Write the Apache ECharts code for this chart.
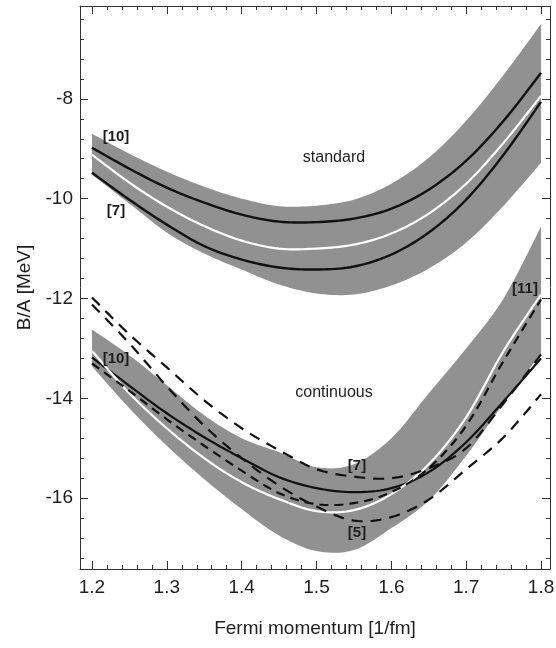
<!DOCTYPE html>
<html>
<head>
<meta charset="utf-8">
<script src="https://cdn.jsdelivr.net/npm/echarts@6/dist/echarts.min.js"></script>
<style>
  html, body { margin: 0; padding: 0; background: #fff; }
  #chart { width: 556px; height: 648px; }
</style>
</head>
<body>
<div id="chart"></div>
<script>
// Fermi momentum grid [1/fm]
const fermiK = [1.2, 1.25, 1.3, 1.35, 1.4, 1.45, 1.5, 1.55, 1.6, 1.65, 1.7, 1.75, 1.8];

// "standard" group: error band, two reference curves and the white centre curve
const stdBandTop    = [-8.70, -9.10, -9.46, -9.76, -10.00, -10.15, -10.14, -10.02, -9.70, -9.18, -8.44, -7.52, -6.50];
const stdBandBottom = [-9.52, -10.10, -10.68, -11.10, -11.42, -11.72, -11.90, -11.92, -11.74, -11.40, -10.88, -10.14, -9.28];
const std10         = [-8.98, -9.40, -9.78, -10.08, -10.32, -10.46, -10.47, -10.40, -10.20, -9.82, -9.24, -8.44, -7.48];
const stdCenter     = [-9.12, -9.68, -10.16, -10.55, -10.84, -11.00, -11.00, -10.92, -10.70, -10.30, -9.70, -8.88, -7.94];
const std7          = [-9.48, -10.02, -10.52, -10.95, -11.22, -11.38, -11.42, -11.36, -11.12, -10.68, -10.02, -9.12, -8.06];

// "continuous" group
const contBandTop    = [-12.62, -13.14, -13.74, -14.34, -14.80, -15.08, -15.38, -15.32, -14.80, -13.90, -13.00, -12.00, -10.56];
const contBandBottom = [-13.36, -14.20, -14.95, -15.62, -16.22, -16.75, -17.06, -17.04, -16.60, -16.05, -15.15, -14.10, -13.10];
const cont10         = [-13.18, -13.75, -14.30, -14.78, -15.20, -15.58, -15.80, -15.88, -15.80, -15.48, -14.88, -14.06, -13.20];
const contCenter     = [-13.05, -13.90, -14.60, -15.20, -15.68, -16.02, -16.26, -16.24, -15.92, -15.32, -14.38, -13.05, -11.92];
const cont7          = [-11.98, -12.72, -13.38, -14.04, -14.60, -15.04, -15.42, -15.57, -15.60, -15.40, -15.00, -14.10, -13.12];
const cont5          = [-12.12, -12.90, -13.76, -14.55, -15.20, -15.75, -16.17, -16.45, -16.38, -16.03, -15.42, -14.78, -13.92];
const cont11         = [-13.30, -13.85, -14.42, -14.95, -15.45, -15.90, -16.12, -16.10, -15.88, -15.40, -14.55, -13.25, -12.02];

// tick labels
const xMajor = [1.2, 1.3, 1.4, 1.5, 1.6, 1.7, 1.8];
const yMajor = [-16, -14, -12, -10, -8];

const X_MIN = 1.184, X_MAX = 1.812;
const Y_MIN = -17.42, Y_MAX = -6.14;

// minor ticks: 5 subdivisions per major step
const xMinor = [];
for (let i = 0; i <= 30; i++) xMinor.push(+(1.2 + i * 0.02).toFixed(2));
const yMinor = [];
for (let i = 0; i <= 27; i++) yMinor.push(+(-17.2 + i * 0.4).toFixed(1));

const FONT = '"Liberation Sans", Arial, Helvetica, sans-serif';
const FRAME = '#333';
const TEXT = '#1e1e1e';
const BAND = '#919191';

// Catmull-Rom 插值（像素空间），让曲线和误差带边缘平滑
function smoothPts(pts, steps) {
  const out = [];
  for (let i = 0; i < pts.length - 1; i++) {
    const p0 = pts[Math.max(i - 1, 0)], p1 = pts[i], p2 = pts[i + 1], p3 = pts[Math.min(i + 2, pts.length - 1)];
    for (let s = 0; s < steps; s++) {
      const t = s / steps, t2 = t * t, t3 = t2 * t;
      out.push([0, 1].map(k => 0.5 * (2 * p1[k] + (-p0[k] + p2[k]) * t +
        (2 * p0[k] - 5 * p1[k] + 4 * p2[k] - p3[k]) * t2 + (-p0[k] + 3 * p1[k] - 3 * p2[k] + p3[k]) * t3)));
    }
  }
  out.push(pts[pts.length - 1]);
  return out;
}

function toPixels(api, ys) {
  return smoothPts(fermiK.map((x, i) => api.coord([x, ys[i]])), 10);
}

// 误差带：custom 系列，上边界 + 反向下边界组成多边形
function bandSeries(top, bottom) {
  return {
    type: 'custom', silent: true, z: 1,
    data: fermiK.map((x, i) => [x, top[i], bottom[i]]),
    encode: { x: 0, y: [1, 2] },
    renderItem: (params, api) => {
      if (params.dataIndex !== 0) return null;
      const upper = toPixels(api, top);
      const lower = toPixels(api, bottom);
      return {
        type: 'polygon',
        shape: { points: upper.concat(lower.reverse()) },
        style: { fill: BAND, stroke: null }
      };
    }
  };
}

// 曲线：custom 折线（平滑后的像素点）
function curve(ys, color, dash, width) {
  return {
    type: 'custom', silent: true, z: 3,
    data: fermiK.map((x, i) => [x, ys[i]]),
    encode: { x: 0, y: 1 },
    renderItem: (params, api) => {
      if (params.dataIndex !== 0) return null;
      return {
        type: 'polyline',
        shape: { points: toPixels(api, ys) },
        style: { stroke: color, lineWidth: width, fill: null, lineDash: dash, lineCap: 'butt', lineJoin: 'round' }
      };
    }
  };
}

function xAxisOf(position, ticks, len, withLine, withLabel) {
  return {
    type: 'value', min: X_MIN, max: X_MAX, position: position,
    axisLine: { show: withLine, onZero: false, lineStyle: { color: FRAME, width: 1 } },
    axisTick: { show: true, inside: true, length: len, customValues: ticks, lineStyle: { color: FRAME, width: 1 } },
    axisLabel: withLabel
      ? { show: true, customValues: xMajor, formatter: v => v.toFixed(1), margin: 9, fontSize: 19, fontFamily: FONT, color: TEXT }
      : { show: false },
    splitLine: { show: false }
  };
}

function yAxisOf(position, ticks, len, withLine, withLabel) {
  return {
    type: 'value', min: Y_MIN, max: Y_MAX, position: position,
    axisLine: { show: withLine, onZero: false, lineStyle: { color: FRAME, width: 1 } },
    axisTick: { show: true, inside: true, length: len, customValues: ticks, lineStyle: { color: FRAME, width: 1 } },
    axisLabel: withLabel
      ? { show: true, customValues: yMajor, formatter: v => String(v), margin: 7, fontSize: 19, fontFamily: FONT, color: TEXT }
      : { show: false },
    splitLine: { show: false }
  };
}

const xAxes = [
  xAxisOf('bottom', xMajor, 8, true, true),
  xAxisOf('bottom', xMinor, 4, false, false),
  xAxisOf('top', xMajor, 8, true, false),
  xAxisOf('top', xMinor, 4, false, false)
];
Object.assign(xAxes[0], {
  name: 'Fermi momentum [1/fm]', nameLocation: 'middle', nameGap: 50,
  nameTextStyle: { fontSize: 19, fontFamily: FONT, color: TEXT }
});

const yAxes = [
  yAxisOf('left', yMajor, 8, true, true),
  yAxisOf('left', yMinor, 4, false, false),
  yAxisOf('right', yMajor, 8, true, false),
  yAxisOf('right', yMinor, 4, false, false)
];
Object.assign(yAxes[0], {
  name: 'B/A [MeV]', nameLocation: 'middle', nameGap: 37,
  nameTextStyle: { fontSize: 19, fontFamily: FONT, color: TEXT }
});

function label(text, x, y, size, bold) {
  return {
    type: 'text', x: x, y: y, z: 100,
    style: {
      text: text, fill: TEXT, align: 'center', verticalAlign: 'middle',
      font: (bold ? 'bold ' : '') + size + 'px ' + FONT
    }
  };
}

const chart = echarts.init(document.getElementById('chart'), null, { renderer: 'canvas' });
chart.setOption({
  animation: false,
  backgroundColor: '#fff',
  grid: { left: 80, right: 6, top: 6, bottom: 79, outerBoundsMode: 'none' },
  xAxis: xAxes,
  yAxis: yAxes,
  series: [
    bandSeries(stdBandTop, stdBandBottom),
    bandSeries(contBandTop, contBandBottom),
    curve(std10, '#111', null, 2.4),
    curve(std7, '#111', null, 2.4),
    curve(stdCenter, '#fff', null, 2.2),
    curve(cont10, '#111', null, 2.2),
    curve(contCenter, '#fff', null, 2.2),
    curve(cont7, '#111', [11, 8], 2.2),
    curve(cont5, '#111', [11, 8], 2.2),
    curve(cont11, '#111', [9, 6], 2.2)
  ],
  graphic: [
    label('[10]', 116, 137, 15, true),
    label('[7]', 116, 211, 15, true),
    label('standard', 334, 158, 16, false),
    label('continuous', 334, 393, 16, false),
    label('[10]', 116, 359, 15, true),
    label('[7]', 357, 466, 15, true),
    label('[5]', 357, 533, 15, true),
    label('[11]', 525, 289, 15, true)
  ]
});
</script>
</body>
</html>
